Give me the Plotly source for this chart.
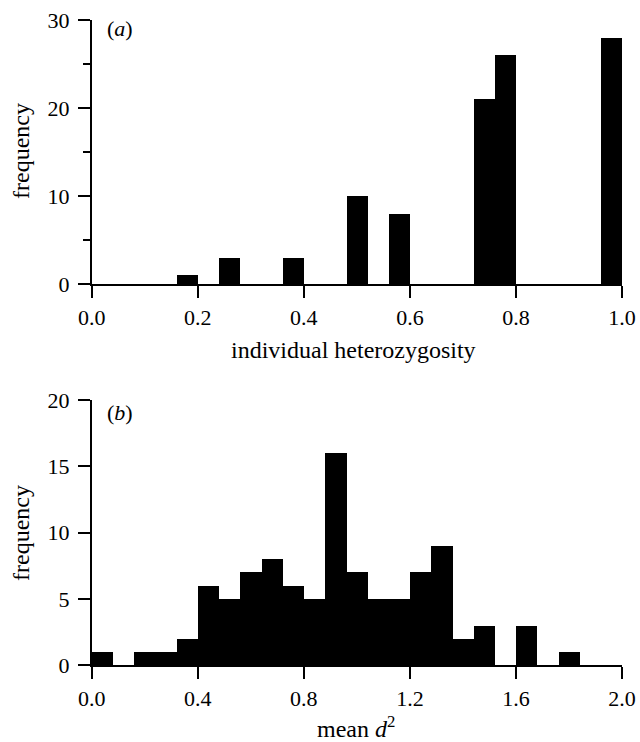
import plotly.graph_objects as go

# Panel (a): individual heterozygosity histogram (bin width 0.04)
het_bin_left = [0.16, 0.24, 0.36, 0.48, 0.56, 0.72, 0.76, 0.96]
het_counts = [1, 3, 3, 10, 8, 21, 26, 28]
het_width = 0.04
het_xticks = [0.0, 0.2, 0.4, 0.6, 0.8, 1.0]
het_xticklabels = ["0.0", "0.2", "0.4", "0.6", "0.8", "1.0"]
het_yticks = [0, 10, 20, 30]

# Panel (b): mean d^2 histogram (bin width 0.08)
d2_bin_left = [0.00, 0.08, 0.16, 0.24, 0.32, 0.40, 0.48, 0.56, 0.64, 0.72, 0.80, 0.88,
               0.96, 1.04, 1.12, 1.20, 1.28, 1.36, 1.44, 1.52, 1.60, 1.68, 1.76]
d2_counts = [1, 0, 1, 1, 2, 6, 5, 7, 8, 6, 5, 16, 7, 5, 5, 7, 9, 2, 3, 0, 3, 0, 1]
d2_width = 0.08
d2_xticks = [0.0, 0.4, 0.8, 1.2, 1.6, 2.0]
d2_xticklabels = ["0.0", "0.4", "0.8", "1.2", "1.6", "2.0"]
d2_yticks = [0, 5, 10, 15, 20]

W, H = 640, 742
FONT = "Liberation Serif"

def px(x):
    return x / W

def py(y):
    return 1 - y / H

fig = go.Figure()
fig.add_trace(go.Bar(x=het_bin_left, y=het_counts, width=het_width, offset=0,
                     marker=dict(color="black", line=dict(width=0)),
                     xaxis="x", yaxis="y", showlegend=False))
fig.add_trace(go.Bar(x=d2_bin_left, y=d2_counts, width=d2_width, offset=0,
                     marker=dict(color="black", line=dict(width=0)),
                     xaxis="x2", yaxis="y2", showlegend=False))

axis_common = dict(showline=True, linecolor="black", linewidth=1.6, ticks="outside",
                   ticklen=12, tickwidth=1.6, tickcolor="black", showgrid=False,
                   zeroline=False, automargin=False,
                   tickfont=dict(family=FONT, size=22, color="black"))

xd = [px(91.7), px(622)]
fig.update_layout(
    template="none",
    width=W, height=H, margin=dict(l=0, r=0, t=0, b=0, pad=0), autosize=False,
    paper_bgcolor="white", plot_bgcolor="white", bargap=0,
    xaxis=dict(domain=xd, range=[0, 1.0], tickvals=het_xticks, ticktext=het_xticklabels,
               anchor="y", **axis_common),
    yaxis=dict(domain=[py(284.3), py(20)], range=[0, 30], tickvals=het_yticks,
               anchor="x", ticklabelstandoff=4,
               minor=dict(dtick=5, tick0=0, ticklen=7, tickwidth=1.6,
                          tickcolor="black", ticks="outside"),
               **axis_common),
    xaxis2=dict(domain=xd, range=[0, 2.0], tickvals=d2_xticks, ticktext=d2_xticklabels,
                anchor="y2", **axis_common),
    yaxis2=dict(domain=[py(665.3), py(400)], range=[0, 20], tickvals=d2_yticks,
                anchor="x2", ticklabelstandoff=4, **axis_common),
)

title_font = dict(family=FONT, size=24, color="black")
label_font = dict(family=FONT, size=22, color="black")
annotations = [
    dict(text="individual heterozygosity", x=px(353), y=py(350), xanchor="center", yanchor="middle", font=title_font),
    dict(text="mean <i>d</i><sup>2</sup>", x=px(356), y=py(727), xanchor="center", yanchor="middle", font=title_font),
    dict(text="frequency", x=px(21), y=py(151), xanchor="center", yanchor="middle", textangle=-90, font=title_font),
    dict(text="frequency", x=px(21), y=py(533), xanchor="center", yanchor="middle", textangle=-90, font=title_font),
    dict(text="(<i>a</i>)", x=px(105), y=py(29), xanchor="left", yanchor="middle", font=label_font),
    dict(text="(<i>b</i>)", x=px(105), y=py(412), xanchor="left", yanchor="middle", font=label_font),
]
for a in annotations:
    a.update(xref="paper", yref="paper", showarrow=False)
fig.update_layout(annotations=annotations)

fig.write_html("out.html", config={"displayModeBar": False},
               post_script="document.body.style.margin='0';document.body.style.overflow='hidden';")
